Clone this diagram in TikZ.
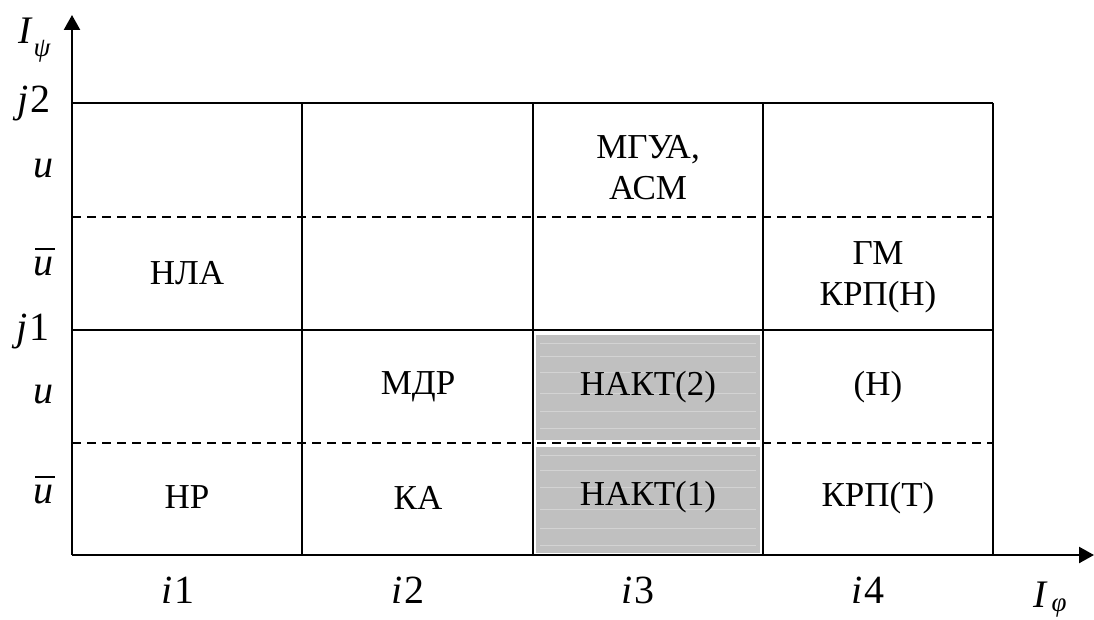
\documentclass[tikz,border=0pt]{standalone}
\usepackage{fontspec}
\setmainfont{Liberation Serif}
\usetikzlibrary{arrows.meta}
\newcommand{\ubar}{\rlap{\kern0.06em\raisebox{0.62em}{\rule{0.5em}{1.8pt}}}\textit{u}}
\newcommand{\ilab}[2]{\textit{#1}\kern0.04em#2}
\begin{document}
\begin{tikzpicture}[x=1pt,y=-1pt,
  grid/.style={line width=2pt},
  dline/.style={line width=1.8pt,dash pattern=on 9pt off 6pt},
  axis/.style={line width=2.4pt,-{Triangle[length=15pt,width=16pt]}},
  cell/.style={font=\fontsize{35}{41}\selectfont,align=center,inner sep=0pt},
  lbl/.style={font=\fontsize{40}{44}\selectfont,inner sep=0pt,anchor=base},
  big/.style={font=\fontsize{39}{42}\selectfont\itshape,inner sep=0pt,anchor=base},
  sub/.style={font=\fontsize{27}{30}\selectfont\itshape,inner sep=0pt,anchor=base},
  shade/.style={fill={rgb,255:red,192;green,192;blue,192},draw=none},
  streak/.style={white,opacity=0.3,line width=0.7pt}]
\useasboundingbox (0,0) rectangle (1094,620);
% shaded cells
\fill[shade] (536,335) rectangle (760,440);
\fill[shade] (536,447) rectangle (760,553);
\foreach \yy in {343,356,372,393,411,428,455,470,487,509,528,545}
  \draw[streak] (540,\yy) -- (756,\yy);
% coordinates
\coordinate (O) at (72,555);
\coordinate (ytip) at (72,15);
\coordinate (xtip) at (1094,555);
% grid
\draw[grid] (72,103) -- (993,103);
\draw[grid] (72,330) -- (993,330);
\draw[dline] (72,217) -- (993,217);
\draw[dline] (72,443) -- (993,443);
\draw[grid] (302,103) -- (302,555);
\draw[grid] (533,103) -- (533,555);
\draw[grid] (763,103) -- (763,555);
\draw[grid] (993,103) -- (993,555);
% axes
\draw[axis] (O) -- (ytip);
\draw[axis] (O) -- (xtip);
% axis labels
\node[big] (Ipsi) at (25,44) {I};
\node[sub] (psi) at (42,57) {ψ};
\node[lbl] (j2) at (34,113) {\ilab{j}{2}};
\node[lbl] (u1) at (43,178) {\textit{u}};
\node[lbl] (ub1) at (43,275) {\ubar};
\node[lbl] (j1) at (33,340) {\ilab{j}{1}};
\node[lbl] (u2) at (43,403) {\textit{u}};
\node[lbl] (ub2) at (43,503) {\ubar};
\node[lbl] (i1) at (178,603) {\ilab{i}{1}};
\node[lbl] (i2) at (408,603) {\ilab{i}{2}};
\node[lbl] (i3) at (638,603) {\ilab{i}{3}};
\node[lbl] (i4) at (868,603) {\ilab{i}{4}};
\node[big] (Iphi) at (1040,607) {I};
\node[sub] (phi) at (1059,611) {φ};
% cell texts
\node[cell] (nla) at (187,273) {НЛА};
\node[cell] (nr) at (187,497) {НР};
\node[cell] (mdr) at (418,387) {МДР};
\node[cell] (ka) at (418,498) {КА};
\node[cell] (mgua) at (648,168) {МГУА,\\АСМ};
\node[cell] (nakt2) at (648,387) {НАКТ(2)};
\node[cell] (nakt1) at (648,497) {НАКТ(1)};
\node[cell] (gm) at (878,277) {ГМ\\КРП(Н)};
\node[cell] (n) at (878,387) {(Н)};
\node[cell] (krpt) at (878,498) {КРП(Т)};
\end{tikzpicture}
\end{document}
